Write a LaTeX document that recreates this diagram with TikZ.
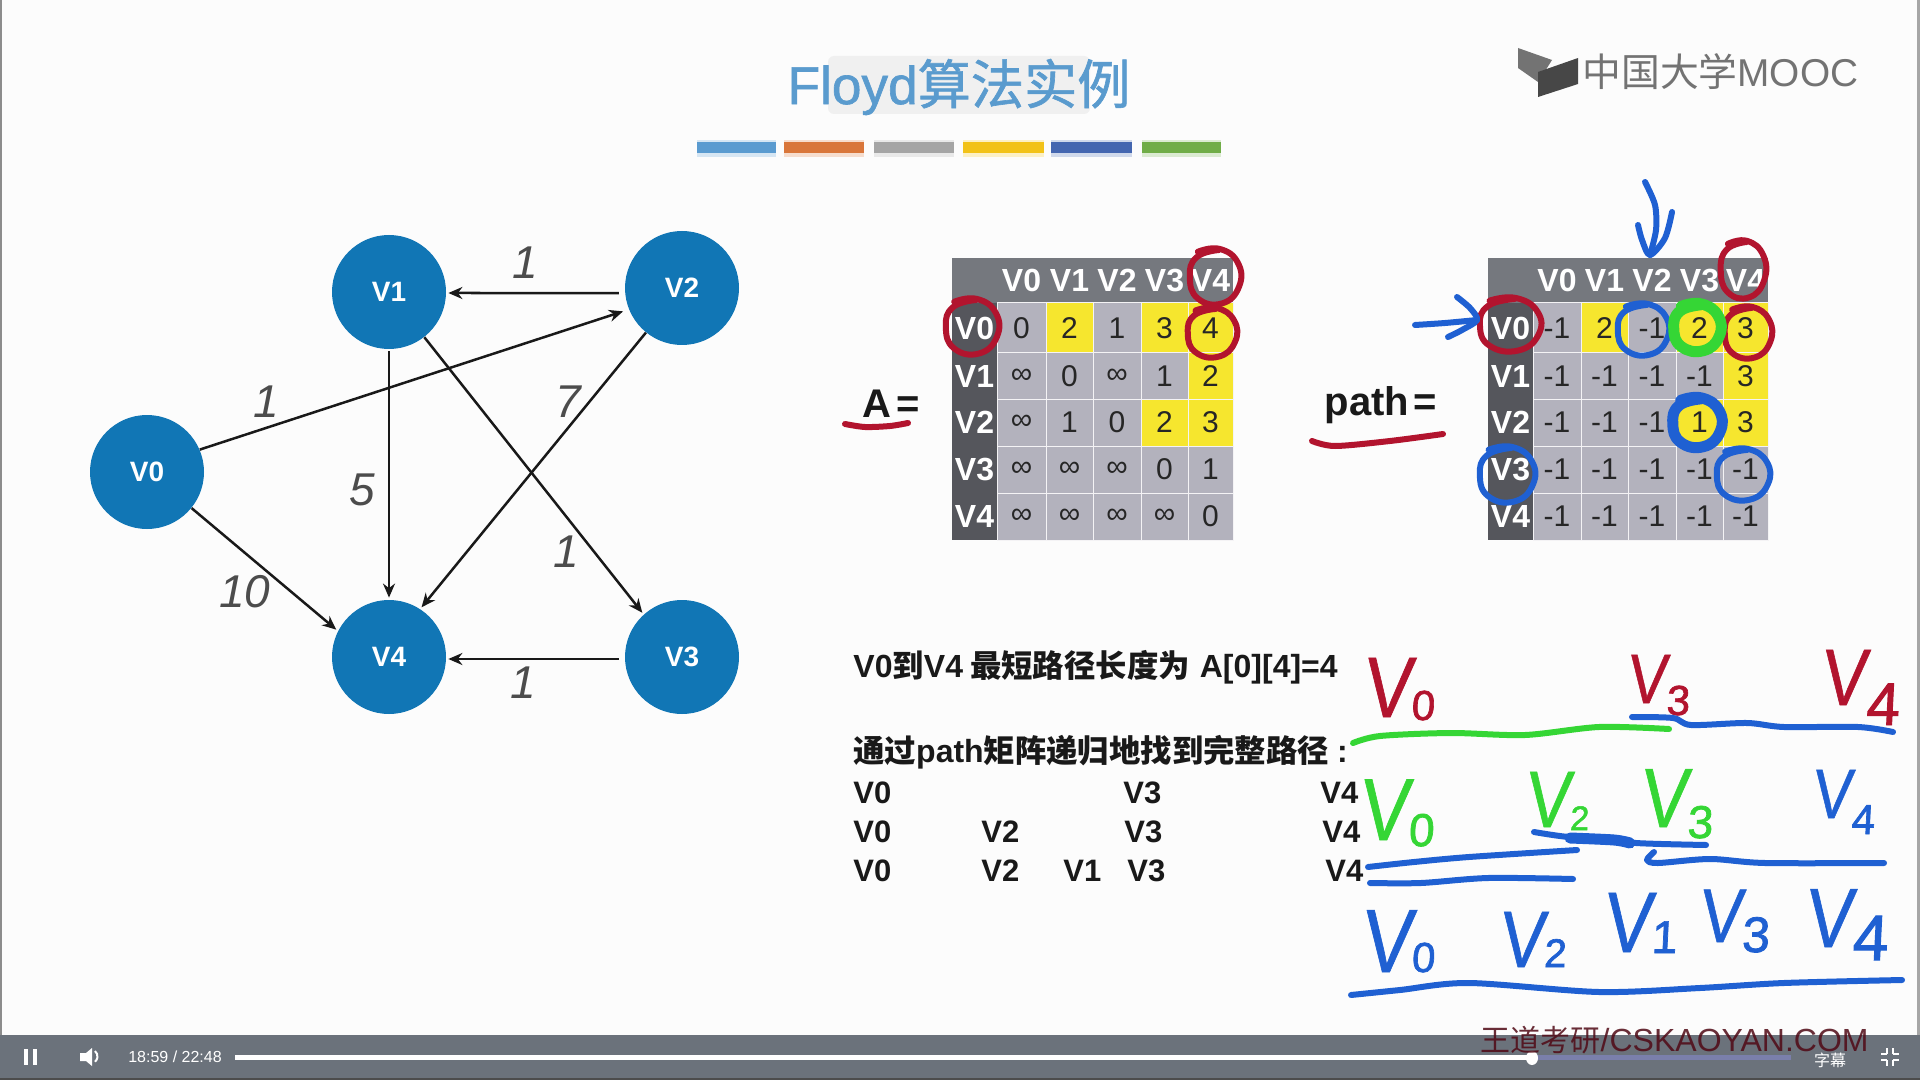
\documentclass[tikz,border=0pt]{standalone}
\usepackage{fontspec}
\usetikzlibrary{arrows.meta,shapes.geometric}
\setmainfont{Liberation Sans}
\newfontfamily\cjk{Noto Sans CJK SC}
\newfontfamily\titlecjk[FakeBold=1.2]{Noto Sans CJK SC}
\newfontfamily\titlelat[FakeBold=1.2]{Liberation Sans}
\newfontfamily\handfont[FakeSlant=0.1,FakeStretch=0.85,FakeBold=0.7]{Liberation Sans}
\newfontfamily\handdig[FakeSlant=0.05,FakeBold=1.6]{Liberation Sans}
\newcommand\fs[1]{\fontsize{#1}{#1}\selectfont}
\definecolor{nodeblue}{HTML}{1176B5}
\definecolor{cellgray}{HTML}{B3B2BD}
\definecolor{cellyel}{HTML}{F6E62E}
\definecolor{headgray}{HTML}{75787E}
\definecolor{sidegray}{HTML}{55565C}
\definecolor{penred}{HTML}{B2142E}
\definecolor{penblue}{HTML}{1F60D2}
\definecolor{pengreen}{HTML}{35D635}
\definecolor{titleblue}{HTML}{5A9BCE}
\definecolor{barbg}{HTML}{6B727B}
\tikzset{
  vert/.style={circle,fill=nodeblue,text=white,minimum size=57pt,inner sep=0pt,font=\fs{14}\bfseries},
  edge/.style={-{Stealth[length=7pt,width=6pt]},line width=1.25pt,black!90},
  elabel/.style={font=\fs{23}\itshape,text=black!70,inner sep=0pt},
  tcell/.style={draw=white!85!cellgray,line width=.5pt,inner sep=0pt,font=\fs{15},text=black!85},
  thead/.style={tcell,font=\fs{16}\bfseries,text=white},
  stext/.style={font=\fs{15.5}\bfseries,text=black!90,anchor=west,inner sep=0pt},
  pen/.style={line width=3pt,line cap=round,line join=round},
  thick pen/.style={line width=5.5pt,line cap=round,line join=round},
  hand/.style={anchor=base west,inner sep=0pt}
}
% one row of a table: y0, y1, list of x0/x1/text/fill
\newcommand\trow[3]{\foreach \xa/\xb/\tx/\cf in {#3}{
  \node[tcell,fill=\cf,minimum width={(\xb-\xa)*0.5pt},minimum height={(#2-#1)*0.5pt}] (c\xa-#1) at ({(\xa+\xb)/2},{(#1+#2)/2}) {\tx};}}
\newcommand\thd[3]{\foreach \xa/\xb/\tx/\cf in {#3}{
  \node[thead,fill=\cf,draw=none,minimum width={(\xb-\xa)*0.5pt},minimum height={(#2-#1)*0.5pt}] (c\xa-#1) at ({(\xa+\xb)/2},{(#1+#2)/2}) {\tx};}}
% hand-written loop: style, cx, cy, rx, ry
\newcommand\hloop[5]{\draw[#1] plot[smooth,tension=.8] coordinates {
  ({#2+1.15*#4*cos(125)},{#3+1.1*#5*sin(-125)})
  ({#2+#4*cos(80)},{#3+1.02*#5*sin(-80)})
  ({#2+1.02*#4*cos(30)},{#3+#5*sin(-30)})
  ({#2+.98*#4*cos(-20)},{#3+1.03*#5*sin(20)})
  ({#2+#4*cos(-75)},{#3+.98*#5*sin(75)})
  ({#2+1.03*#4*cos(-130)},{#3+#5*sin(130)})
  ({#2+.97*#4*cos(-180)},{#3+1.0*#5*sin(180)})
  ({#2+#4*cos(-225)},{#3+1.0*#5*sin(225)})
  ({#2+.9*#4*cos(-280)},{#3+.98*#5*sin(280)})
};}
% hand text: V size, digit size, digit, drop
\newcommand\hw[4]{{\handfont\fs{#1}V\raisebox{-#4pt}{\handdig\fs{#2}#3}}}
\begin{document}
\begin{tikzpicture}[x=0.5pt,y=-0.5pt]
\useasboundingbox (0,0) rectangle (1920,1080);
\fill[white!99!black] (0,0) rectangle (1920,1080);
\fill[black!45] (0,0) rectangle (2,1035);
\fill[black!35] (1917,0) rectangle (1920,1035);
% title
\fill[black!6,rounded corners=3pt] (828,56) rectangle (1090,114);
\node[inner sep=0pt,text=titleblue,font=\fs{26.6}] (title) at (959,87) {{\titlelat Floyd}{\titlecjk 算法实例}};
% colour bars
\foreach \xa/\xb/\cc in {697/776/5A9BD0,784/864/D9763A,874/954/A5A5A5,963/1044/F2C218,1051/1132/4466B0,1142/1221/70AD47}{
  \definecolor{tmpc}{HTML}{\cc}
  \fill[tmpc!25] (\xa,140) rectangle (\xb,157);
  \fill[tmpc] (\xa,142) rectangle (\xb,153);
}
% logo
\fill[black!55] (1518,48) -- (1552,60) -- (1542,76) -- (1538,82) -- (1518,68) -- cycle;
\fill[black!72] (1538,97) -- (1538,72) -- (1578,58) -- (1578,84) -- cycle;
\node[inner sep=0pt,anchor=west,text=black!55,font=\fs{19.4}] (logo) at (1582,72) {{\cjk 中国大学}MOOC};
% graph
\node[vert] (v0) at (147,472) {V0};
\node[vert] (v1) at (389,292) {V1};
\node[vert] (v2) at (682,288) {V2};
\node[vert] (v3) at (682,657) {V3};
\node[vert] (v4) at (389,657) {V4};
\draw[edge,shorten >=3pt] (v0.23) -- (v2.202);
\draw[edge,shorten >=1pt,shorten <=3pt] (v2.185) -- (v1.-1);
\draw[edge,shorten >=1pt,shorten <=1pt] (v1.south) -- (v4.north);
\draw[edge,shorten >=1pt] (v1.-52) -- (v3.132);
\draw[edge,shorten >=1pt] (v2.231) -- (v4.57);
\draw[edge,shorten >=1pt] (v0.-39) -- (v4.153);
\draw[edge,shorten >=1pt,shorten <=3pt] (v3.182) -- (v4.-2);
\node[elabel] (l1) at (525,263) {1};
\node[elabel] (l2) at (266,402) {1};
\node[elabel] (l3) at (568,402) {7};
\node[elabel] (l4) at (362,490) {5};
\node[elabel] (l5) at (566,552) {1};
\node[elabel] (l6) at (245,592) {10};
\node[elabel] (l7) at (523,683) {1};
% matrix A
\thd{258}{303}{952/997/{}/headgray,997/1046/V0/headgray,1046/1093/V1/headgray,1093/1141/V2/headgray,1141/1188/V3/headgray,1188/1233/V4/headgray}
\thd{303}{353}{952/997/V0/sidegray}
\thd{353}{399}{952/997/V1/sidegray}
\thd{399}{446}{952/997/V2/sidegray}
\thd{446}{493}{952/997/V3/sidegray}
\thd{493}{540}{952/997/V4/sidegray}
\trow{303}{353}{997/1046/0/cellgray,1046/1093/2/cellyel,1093/1141/1/cellgray,1141/1188/3/cellyel,1188/1233/4/cellyel}
\trow{353}{399}{997/1046/∞/cellgray,1046/1093/0/cellgray,1093/1141/∞/cellgray,1141/1188/1/cellgray,1188/1233/2/cellyel}
\trow{399}{446}{997/1046/∞/cellgray,1046/1093/1/cellgray,1093/1141/0/cellgray,1141/1188/2/cellyel,1188/1233/3/cellyel}
\trow{446}{493}{997/1046/∞/cellgray,1046/1093/∞/cellgray,1093/1141/∞/cellgray,1141/1188/0/cellgray,1188/1233/1/cellgray}
\trow{493}{540}{997/1046/∞/cellgray,1046/1093/∞/cellgray,1093/1141/∞/cellgray,1141/1188/∞/cellgray,1188/1233/0/cellgray}
% matrix path
\thd{258}{303}{1488/1533/{}/headgray,1533/1581/V0/headgray,1581/1628/V1/headgray,1628/1676/V2/headgray,1676/1723/V3/headgray,1723/1768/V4/headgray}
\thd{303}{353}{1488/1533/V0/sidegray}
\thd{353}{399}{1488/1533/V1/sidegray}
\thd{399}{446}{1488/1533/V2/sidegray}
\thd{446}{493}{1488/1533/V3/sidegray}
\thd{493}{540}{1488/1533/V4/sidegray}
\trow{303}{353}{1533/1581/-1/cellgray,1581/1628/2/cellyel,1628/1676/-1/cellgray,1676/1723/2/cellyel,1723/1768/3/cellyel}
\trow{353}{399}{1533/1581/-1/cellgray,1581/1628/-1/cellgray,1628/1676/-1/cellgray,1676/1723/-1/cellgray,1723/1768/3/cellyel}
\trow{399}{446}{1533/1581/-1/cellgray,1581/1628/-1/cellgray,1628/1676/-1/cellgray,1676/1723/1/cellyel,1723/1768/3/cellyel}
\trow{446}{493}{1533/1581/-1/cellgray,1581/1628/-1/cellgray,1628/1676/-1/cellgray,1676/1723/-1/cellgray,1723/1768/-1/cellgray}
\trow{493}{540}{1533/1581/-1/cellgray,1581/1628/-1/cellgray,1628/1676/-1/cellgray,1676/1723/-1/cellgray,1723/1768/-1/cellgray}
% labels of matrices
\node[inner sep=0pt,font=\fs{20}\bfseries,text=black!90] (lA) at (891,404) {A\kern.12em=};
\node[inner sep=0pt,font=\fs{20}\bfseries,text=black!90] (lP) at (1381,405) {path\kern.12em=};
% text block
\node[stext,font=\fs{16}\bfseries] (s1) at (853,667) {V0{\cjk\fs{15.7}到}V4\hspace{3.5pt}{\cjk\fs{15.7}最短路径长度为}\hspace{5pt}A[0][4]=4};
\node[stext,font=\fs{16}\bfseries] (s2) at (853,752) {{\cjk\fs{15.7}通过}path{\cjk\fs{15.7}矩阵递归地找到完整路径}\hspace{4pt}:};
\node[stext] (r1a) at (853,793) {V0};
\node[stext] (r1b) at (1123,793) {V3};
\node[stext] (r1c) at (1320,793) {V4};
\node[stext] (r2a) at (853,832) {V0};
\node[stext] (r2b) at (981,832) {V2};
\node[stext] (r2c) at (1124,832) {V3};
\node[stext] (r2d) at (1322,832) {V4};
\node[stext] (r3a) at (853,871) {V0};
\node[stext] (r3b) at (981,871) {V2};
\node[stext] (r3c) at (1063,871) {V1};
\node[stext] (r3d) at (1127,871) {V3};
\node[stext] (r3e) at (1325,871) {V4};
% red ink on matrices
\draw[pen,penred] plot[smooth] coordinates {(845,424) (865,427) (890,426) (908,423)};
\draw[pen,penred] plot[smooth] coordinates {(1312,441) (1335,446) (1390,441) (1443,434)};
\hloop{pen,penred}{972}{327}{27}{28}
\hloop{pen,penred}{1215}{277}{26}{28}
\hloop{pen,penred}{1212}{333}{25}{25}
\hloop{pen,penred}{1510}{325}{31}{27}
\hloop{pen,penred}{1743}{270}{23}{29}
\hloop{pen,penred}{1748}{333}{24}{26}
% blue and green ink on matrix
\hloop{pen,penblue}{1643}{330}{26}{26}
\hloop{thick pen,pengreen}{1697}{328}{24}{24}
\hloop{thick pen,penblue}{1697}{423}{25}{25}
\hloop{pen,penblue}{1507}{475}{28}{28}
\hloop{pen,penblue}{1743}{475}{27}{26}
\draw[pen,penblue] plot[smooth] coordinates {(1415,325) (1445,323) (1477,320)};
\draw[pen,penblue] plot[smooth] coordinates {(1457,297) (1470,308) (1477,320) (1462,330) (1448,337)};
\draw[pen,penblue] plot[smooth] coordinates {(1645,182) (1655,205) (1656,230) (1650,255)};
\draw[pen,penblue] plot[smooth] coordinates {(1638,225) (1642,240) (1650,255) (1665,238) (1672,212)};
% hand-written path, first line
\node[hand,text=penred] (h1) at (1362,717) {\hw{43}{21}{0}{1.5}};
\node[hand,text=penred] (h2) at (1626,703) {\hw{35}{21}{3}{6}};
\node[hand,text=penred] (h3) at (1820,705) {\hw{40}{30}{4}{10}};
\draw[pen,pengreen] plot[smooth] coordinates {(1353,743) (1380,736) (1451,733) (1525,735) (1599,727) (1669,729)};
\draw[pen,penblue] plot[smooth] coordinates {(1632,717) (1673,718) (1691,725) (1747,723) (1784,727) (1858,727) (1893,732)};
% second line
\node[hand,text=pengreen] (h4) at (1358,840) {\hw{44}{23}{0}{3}};
\node[hand,text=pengreen] (h5) at (1524,827) {\hw{40}{17}{2}{1.5}};
\node[hand,text=pengreen] (h6) at (1639,827) {\hw{42}{23}{3}{5.5}};
\node[hand,text=penblue] (h7) at (1811,818) {\hw{35}{21}{4}{8}};
\draw[pen,penblue] plot[smooth] coordinates {(1534,832) (1569,837) (1614,838) (1636,843) (1706,845)};
\draw[thick pen,penblue] plot[smooth] coordinates {(1570,838) (1614,840) (1630,843)};
\draw[pen,penblue] plot[smooth] coordinates {(1368,867) (1414,862) (1469,857) (1577,850)};
\draw[pen,penblue] plot[smooth] coordinates {(1370,883) (1421,883) (1488,878) (1573,879)};
\draw[pen,penblue] plot[smooth] coordinates {(1654,852) (1647,860) (1658,863) (1710,859) (1765,863) (1884,863)};
% third line
\node[hand,text=penblue] (h8) at (1360,972) {\hw{45}{21}{0}{0}};
\node[hand,text=penblue] (h9) at (1498,967) {\hw{40}{20}{2}{0}};
\node[hand,text=penblue] (h10) at (1602,952) {\hw{43}{23}{1}{0.5}};
\node[hand,text=penblue] (h11) at (1698,942) {\hw{38}{25}{3}{5}};
\node[hand,text=penblue] (h12) at (1804,947) {\hw{42}{32}{4}{6.5}};
\draw[pen,penblue] plot[smooth] coordinates {(1351,995) (1400,990) (1469,983) (1599,992) (1700,988) (1784,983) (1902,980)};
% player bar
\fill[barbg] (0,1035) rectangle (1920,1080);
\fill[black!70] (0,1078) rectangle (1920,1080);
\fill[white] (24,1049) rectangle (28,1065);
\fill[white] (33,1049) rectangle (37,1065);
\fill[white] (80,1053) -- (86,1053) -- (92,1048) -- (92,1066) -- (86,1061) -- (80,1061) -- cycle;
\draw[white,line width=1pt] (95,1051) arc (-50:50:7);
\node[inner sep=0pt,text=white,font=\fs{8}] (time) at (175,1057) {18:59 / 22:48};
\fill[white!25!barbg!85!blue] (1532,1055) rectangle (1791,1060);
\fill[white] (235,1055) rectangle (1532,1060);
\fill[white] (1532,1058) ellipse (6 and 7);
\foreach \sx in {1,-1}{\foreach \qx in {1,-1}{
  \draw[white,line width=1pt] ({1890+\qx*3},{1057+\sx*3}) -- ({1890+\qx*3},{1057+\sx*9});
  \draw[white,line width=1pt] ({1890+\qx*3},{1057+\sx*3}) -- ({1890+\qx*9},{1057+\sx*3});
}}
\node[inner sep=0pt,anchor=east,text=penred!45!black,opacity=.85,font=\fs{16}] (mark) at (1869,1040) {{\cjk\fs{15}王道考研}/CSKAOYAN.COM};
\node[inner sep=0pt,text=white,font=\cjk\fs{8}] (sub) at (1830,1060) {字幕};
\end{tikzpicture}
\end{document}
